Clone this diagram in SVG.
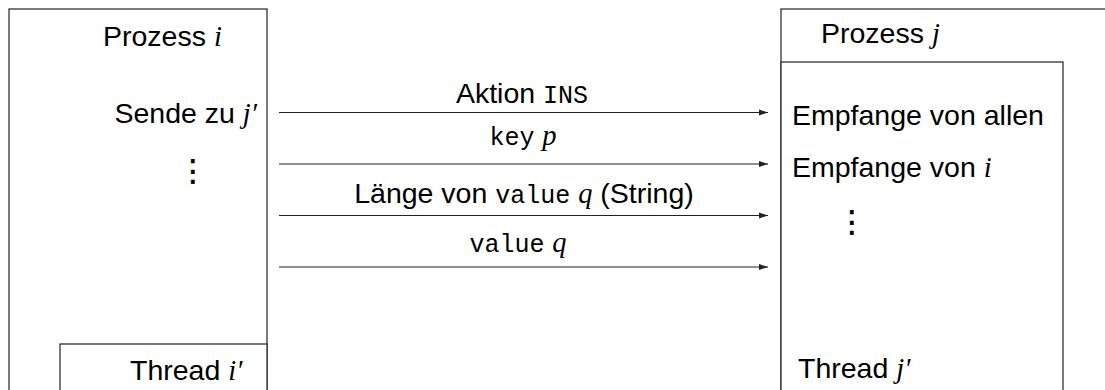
<svg xmlns="http://www.w3.org/2000/svg" width="1105" height="390" viewBox="0 0 1105 390">
<style>
.box{fill:#fff;stroke:#222;stroke-width:1.2}
.t{font-family:"Liberation Sans",Arial,sans-serif;font-size:28.5px;fill:#000}
.m{font-family:"Liberation Serif","DejaVu Serif",serif;font-style:italic}
.tt{font-family:"Liberation Mono","DejaVu Sans Mono",monospace;font-size:25px}
.c{stroke:#222;stroke-width:1.2;fill:none}
.dots{font-family:"DejaVu Sans",sans-serif;font-size:30px;fill:#000;stroke:#000;stroke-width:0.6}
</style>
<defs>
<marker id="ah" markerWidth="10" markerHeight="8" refX="9" refY="4" orient="auto" markerUnits="userSpaceOnUse">
<path d="M0,1 L9,4 L0,7 Z" fill="#222"/>
</marker>
</defs>
<g id="prozess-i">
<rect class="box" x="9" y="9" width="258" height="400"/>
<text class="t" x="103" y="46">Prozess <tspan class="m">i</tspan></text>
<text class="t" x="257" y="123" text-anchor="end">Sende zu <tspan class="m">j′</tspan></text>
<text class="dots" x="193" y="181" text-anchor="middle">⋮</text>
</g>
<g id="thread-i">
<rect class="box" x="60" y="344" width="207" height="60"/>
<text class="t" x="130" y="380">Thread <tspan class="m">i′</tspan></text>
</g>
<g id="prozess-j">
<rect class="box" x="781" y="9" width="400" height="400"/>
<text class="t" x="821" y="43">Prozess <tspan class="m">j</tspan></text>
</g>
<g id="thread-j">
<rect class="box" x="781" y="62" width="282" height="350"/>
<text class="t" x="792" y="125">Empfange von allen</text>
<text class="t" x="792" y="177">Empfange von <tspan class="m">i</tspan></text>
<text class="dots" x="852" y="232" text-anchor="middle">⋮</text>
<text class="t" x="798" y="378">Thread <tspan class="m">j′</tspan></text>
</g>
<g id="connectors">
<line class="c" x1="279" y1="112.5" x2="768" y2="112.5" marker-end="url(#ah)"/>
<line class="c" x1="279" y1="164" x2="768" y2="164" marker-end="url(#ah)"/>
<line class="c" x1="279" y1="215.5" x2="768" y2="215.5" marker-end="url(#ah)"/>
<line class="c" x1="279" y1="267" x2="768" y2="267" marker-end="url(#ah)"/>
<text class="t" x="522" y="103" text-anchor="middle">Aktion <tspan class="tt">INS</tspan></text>
<text class="t" x="523" y="145" text-anchor="middle"><tspan class="tt">key</tspan> <tspan class="m">p</tspan></text>
<text class="t" x="524" y="203" text-anchor="middle">Länge von <tspan class="tt">value</tspan> <tspan class="m">q</tspan> (String)</text>
<text class="t" x="518" y="252" text-anchor="middle"><tspan class="tt">value</tspan> <tspan class="m">q</tspan></text>
</g>
</svg>
